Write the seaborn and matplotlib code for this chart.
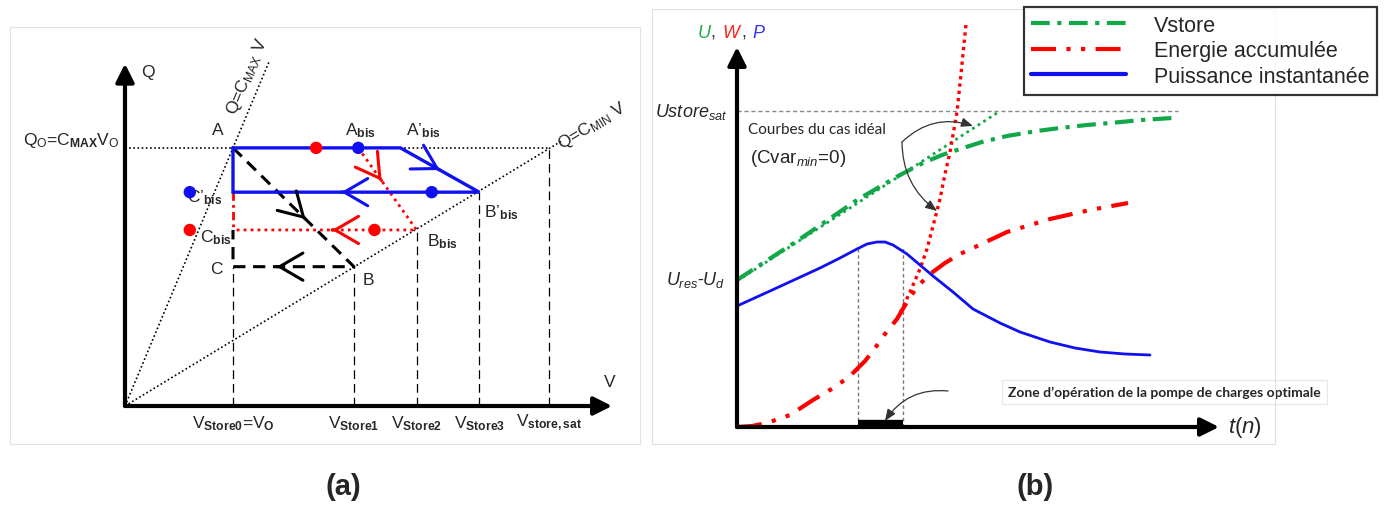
import matplotlib
matplotlib.use("Agg")
import matplotlib.pyplot as plt
from matplotlib.lines import Line2D
from matplotlib.patches import Rectangle
import seaborn as sns

# ---------------- panel (a) : Q-V charge cycle ----------------
V0, V1, V2, V3, VSAT = 1.0, 2.12, 2.70, 3.28, 3.93     # V_Store0..3, V_store,sat
V_ABIS, V_APRIME = 2.16, 2.55                          # A_bis, A'_bis
Q_A, Q_B3, Q_B2, Q_B = 2.39, 1.98, 1.63, 1.29          # levels of A, B'_bis, B_bis, B
C_MAX, C_MIN = 2.39, 0.607
v_ticks = [V0, V1, V2, V3, VSAT]
v_tick_labels = [r"V$_\mathbf{Store0}$=V$_\mathbf{O}$", r"V$_\mathbf{Store1}$",
                 r"V$_\mathbf{Store2}$", r"V$_\mathbf{Store3}$", r"V$_\mathbf{store,sat}$"]
blue_dots_v = [V_ABIS, 2.84, 0.60]
blue_dots_q = [Q_A, Q_B3, Q_B3]
red_dots_v = [1.77, 0.60, 2.31]
red_dots_q = [Q_A, Q_B2, Q_B2]

# ---------------- panel (b) : U, W, P versus t ----------------
U_SAT, U_RES_D = 3.16, 1.46
t_vstore = [0, 0.63, 1.20, 1.63, 1.86, 2.05, 2.23, 2.45, 2.70, 3.00, 3.23, 3.50, 3.73, 4.05, 4.35]
u_vstore = [1.47, 1.88, 2.27, 2.52, 2.64, 2.72, 2.78, 2.85, 2.91, 2.96, 2.99, 3.02, 3.04, 3.07, 3.09]
t_ideal_u = [0, 2.63]
u_ideal = [1.46, 3.16]
t_ideal_w = [1.60, 1.65, 1.73, 1.83, 1.90, 1.96, 2.03, 2.08, 2.13, 2.20, 2.24, 2.29]
w_ideal = [1.08, 1.18, 1.35, 1.58, 1.78, 2.01, 2.28, 2.53, 2.75, 3.15, 3.53, 4.03]
t_energy = [0, 0.15, 0.30, 0.53, 0.76, 0.98, 1.13, 1.28, 1.36, 1.48, 1.60, 1.70, 1.80,
            1.93, 2.08, 2.23, 2.36, 2.70, 3.13, 3.53, 3.91]
w_energy = [0, 0.01, 0.04, 0.12, 0.27, 0.40, 0.51, 0.66, 0.76, 0.93, 1.08, 1.25, 1.40,
            1.53, 1.64, 1.73, 1.79, 1.95, 2.08, 2.17, 2.24]
t_power = [0, 0.33, 0.70, 0.83, 1.03, 1.20, 1.30, 1.40, 1.48, 1.56, 1.70, 1.83, 1.96,
           2.16, 2.36, 2.63, 2.83, 3.13, 3.38, 3.63, 3.88, 4.13]
p_power = [1.21, 1.36, 1.53, 1.59, 1.69, 1.78, 1.83, 1.85, 1.85, 1.82, 1.73, 1.62, 1.51,
           1.35, 1.18, 1.04, 0.95, 0.85, 0.79, 0.75, 0.73, 0.72]
ZONE = [1.21, 1.66]
legend_labels = ["Vstore", "Energie accumulée", "Puissance instantanée"]

GREEN, RED, BLUE = "#12a84a", "#ff0000", "#1010f0"

sns.set_style("white")
plt.rcParams["font.family"] = ["Liberation Sans", "DejaVu Sans"]
plt.rcParams["mathtext.fontset"] = "custom"
plt.rcParams["mathtext.rm"] = "Liberation Sans"
plt.rcParams["mathtext.it"] = "Liberation Sans:italic"
plt.rcParams["mathtext.bf"] = "Liberation Sans:bold"

W, H = 1385, 506
fig = plt.figure(figsize=(W / 100, H / 100), dpi=100)


def mid_arrow(ax, p0, p1, frac, color, size=28):
    x = p0[0] + frac * (p1[0] - p0[0])
    y = p0[1] + frac * (p1[1] - p0[1])
    xs = x - 0.002 * (p1[0] - p0[0])
    ys = y - 0.002 * (p1[1] - p0[1])
    ax.annotate("", xy=(x, y), xytext=(xs, ys),
                arrowprops=dict(arrowstyle="->,head_length=0.6,head_width=0.35",
                                color=color, lw=2.2, mutation_scale=size,
                                shrinkA=0, shrinkB=0))


def axis_arrow(ax, p0, p1):
    ax.annotate("", xy=p1, xytext=p0,
                arrowprops=dict(arrowstyle="-|>,head_length=0.5,head_width=0.25",
                                color="black", lw=3, mutation_scale=22,
                                shrinkA=0, shrinkB=0))


# ---------- (a) ----------
S = 108
ax = fig.add_axes([0, 0, 692 / W, 1])
ax.set_xlim(-125 / S, (692 - 125) / S)
ax.set_ylim(-(H - 407) / S, 407 / S)
ax.axis("off")

# limit lines Q = C V
ax.plot([0, 1.34], [0, 1.34 * C_MAX], color="black", lw=1.2, ls=(0, (1, 1.5)))
ax.plot([0, 4.05], [0, 4.05 * C_MIN], color="black", lw=1.2, ls=(0, (1, 1.5)))
ax.plot([0, V0], [Q_A, Q_A], color="black", lw=1.2, ls=(0, (1, 1.5)))
ax.plot([V_APRIME, VSAT], [Q_A, Q_A], color="black", lw=1.2, ls=(0, (1, 1.5)))

# projection lines
for v, q in zip(v_ticks, [Q_B, Q_B, Q_B2, Q_B3, Q_A]):
    ax.plot([v, v], [0, q], color="black", lw=0.9, ls=(0, (7, 4)))

# black cycle
ax.plot([V0, V1, V0, V0], [Q_A, Q_B, Q_B, Q_B2], color="black", lw=2.2, ls=(0, (4, 2.5)))
mid_arrow(ax, (V0, Q_A), (V1, Q_B), 0.6, "black")
mid_arrow(ax, (V1, Q_B), (V0, Q_B), 0.64, "black")

# red cycle
ax.plot([V_ABIS, V2, V0], [Q_A, Q_B2, Q_B2], color=RED, lw=2, ls=(0, (1, 1.5)))
ax.plot([V0, V0], [Q_B3, Q_B2], color=RED, lw=2, ls=(0, (3, 1.5, 1, 1.5)))
mid_arrow(ax, (V_ABIS, Q_A), (V2, Q_B2), 0.4, RED)
mid_arrow(ax, (V2, Q_B2), (V0, Q_B2), 0.46, RED)

# blue cycle
ax.plot([V0, V_APRIME, V3, V0, V0], [Q_A, Q_A, Q_B3, Q_B3, Q_A], color=BLUE, lw=2.4,
        solid_joinstyle="miter")
mid_arrow(ax, (V_APRIME, Q_A), (V3, Q_B3), 0.5, BLUE)
mid_arrow(ax, (V3, Q_B3), (V0, Q_B3), 0.56, BLUE)

sns.scatterplot(x=blue_dots_v, y=blue_dots_q, color=BLUE, s=80, edgecolor="none", ax=ax, zorder=5)
sns.scatterplot(x=red_dots_v, y=red_dots_q, color=RED, s=80, edgecolor="none", ax=ax, zorder=5)

axis_arrow(ax, (0, 0), (4.51, 0))
axis_arrow(ax, (0, 0), (0, 3.17))

fs = 12.5
ax.text(0.21, 3.10, "Q", fontsize=fs, ha="center", va="center")
ax.text(4.49, 0.23, "V", fontsize=fs, ha="center", va="center")
ax.text(-0.05, 2.47, r"Q$_\mathregular{O}$=C$_\mathbf{MAX}$V$_\mathregular{O}$",
        fontsize=fs, ha="right", va="center")
ax.text(0.86, 2.56, "A", fontsize=fs, ha="center", va="center")
ax.text(2.18, 2.56, r"A$_\mathbf{bis}$", fontsize=fs, ha="center", va="center")
ax.text(2.76, 2.56, r"A’$_\mathbf{bis}$", fontsize=fs, ha="center", va="center")
ax.text(0.57, 1.94, r"C’$_\mathbf{bis}$", fontsize=fs, ha="left", va="center")
ax.text(0.69, 1.57, r"C$_\mathbf{bis}$", fontsize=fs, ha="left", va="center")
ax.text(0.85, 1.27, "C", fontsize=fs, ha="center", va="center")
ax.text(2.25, 1.17, "B", fontsize=fs, ha="center", va="center")
ax.text(2.80, 1.53, r"B$_\mathbf{bis}$", fontsize=fs, ha="left", va="center")
ax.text(3.32, 1.80, r"B’$_\mathbf{bis}$", fontsize=fs, ha="left", va="center")
for v, lab in zip(v_ticks, v_tick_labels):
    ax.text(v, -0.15, lab, fontsize=fs, ha="center", va="center")
ax.text(1.13, 3.06, r"Q=C$_\mathregular{MAX}$ V", fontsize=fs, ha="center", va="center",
        rotation=67)
ax.text(4.33, 2.60, r"Q=C$_\mathregular{MIN}$ V", fontsize=fs, ha="center", va="center",
        rotation=31)
ax.text(2.02, -0.74, "(a)", fontsize=21, fontweight="bold", ha="center", va="center")

# ---------- (b) ----------
S2 = 100
bx = fig.add_axes([692 / W, 0, (W - 692) / W, 1])
bx.set_xlim(-45 / S2, (W - 692 - 45) / S2)
bx.set_ylim(-78 / S2, (H - 78) / S2)
bx.axis("off")

bx.plot([0, 4.41], [U_SAT, U_SAT], color="#888888", lw=1, ls=(0, (3, 2)))
for t in ZONE:
    bx.plot([t, t], [0, 1.80], color="#777777", lw=1, ls=(0, (2.5, 2)))

sns.lineplot(x=t_ideal_u, y=u_ideal, color=GREEN, lw=2, ls=(0, (1, 1.4)),
             estimator=None, sort=False, ax=bx)
sns.lineplot(x=t_vstore, y=u_vstore, color=GREEN, lw=3, ls=(0, (4.5, 1.8, 1, 1.8)),
             estimator=None, sort=False, ax=bx)
sns.lineplot(x=t_ideal_w, y=w_ideal, color=RED, lw=2.4, ls=(0, (1, 1.2)),
             estimator=None, sort=False, ax=bx)
sns.lineplot(x=t_energy, y=w_energy, color=RED, lw=3, ls=(0, (6, 2.5, 1, 2.5, 1, 2.5)),
             estimator=None, sort=False, ax=bx)
sns.lineplot(x=t_power, y=p_power, color=BLUE, lw=2, estimator=None, sort=False, ax=bx)

bx.plot(ZONE, [0.03, 0.03], color="black", lw=6, solid_capstyle="butt")

axis_arrow(bx, (0, 0), (4.82, 0))
axis_arrow(bx, (0, 0), (0, 3.8))

bx.text(-0.39, 3.95, "U", color="#22aa44", fontsize=13, style="italic", ha="left", va="center")
bx.text(-0.265, 3.95, ",", color="#333333", fontsize=13, ha="left", va="center")
bx.text(-0.15, 3.95, "W", color="#ff2020", fontsize=13, style="italic", ha="left", va="center")
bx.text(0.045, 3.95, ",", color="#333333", fontsize=13, ha="left", va="center")
bx.text(0.15, 3.95, "P", color="#3333ff", fontsize=13, style="italic", ha="left", va="center")
bx.text(-0.10, U_SAT, r"$Ustore_{sat}$", fontsize=13, ha="right", va="center")
bx.text(-0.12, 1.48, r"$U_{res}$-$U_{d}$", fontsize=13, ha="right", va="center")
bx.text(0.11, 2.98, "Courbes du cas idéal", fontsize=11, family=["Lato", "DejaVu Sans"],
        ha="left", va="center")
bx.text(0.13, 2.70, r"(Cvar$_{min}$=0)", fontsize=13.5, ha="left", va="center")
bx.text(4.91, 0, r"$t(n)$", fontsize=16, ha="left", va="center")
bx.text(2.71, 0.35, "Zone d’opération de la pompe de charges optimale", fontsize=10,
        family=["Lato", "DejaVu Sans"], fontweight="bold", ha="left", va="center",
        bbox=dict(boxstyle="square,pad=0.45", fc="white", ec="#e6e6e6", lw=0.8))
bx.text(2.98, -0.59, "(b)", fontsize=21, fontweight="bold", ha="center", va="center")

ann = dict(arrowstyle="-|>,head_length=0.5,head_width=0.2", color="#333333", lw=0.9,
           mutation_scale=14, shrinkA=0, shrinkB=0)
bx.annotate("", xy=(2.36, 3.01), xytext=(1.65, 2.85),
            arrowprops=dict(connectionstyle="arc3,rad=-0.3", **ann))
bx.annotate("", xy=(2.00, 2.16), xytext=(1.65, 2.85),
            arrowprops=dict(connectionstyle="arc3,rad=0.25", **ann))
bx.annotate("", xy=(1.48, 0.06), xytext=(2.11, 0.36),
            arrowprops=dict(connectionstyle="arc3,rad=0.3", **ann))

handles = [
    Line2D([], [], color=GREEN, lw=3, ls=(0, (4.5, 1.8, 1, 1.8))),
    Line2D([], [], color=RED, lw=3, ls=(0, (6, 2.5, 1, 2.5, 1, 2.5))),
    Line2D([], [], color=BLUE, lw=3),
]
leg = fig.legend(handles, legend_labels, loc="upper right",
                 bbox_to_anchor=(1377 / W, 1 - 8 / H), bbox_transform=fig.transFigure,
                 fontsize=15.5, frameon=True, fancybox=False, handlelength=4.4,
                 handletextpad=1.3, labelspacing=0.22, borderpad=0.35, borderaxespad=0)
leg.get_frame().set_edgecolor("black")
leg.get_frame().set_linewidth(1.6)

# faint panel frames
fig.patches.append(Rectangle((10 / W, (H - 445) / H), 630 / W, 417 / H, fill=False,
                             ec="#e2e2e2", lw=0.8, transform=fig.transFigure))
fig.patches.append(Rectangle((652 / W, (H - 445) / H), 623 / W, 435 / H, fill=False,
                             ec="#e2e2e2", lw=0.8, transform=fig.transFigure))

fig.savefig("out.png", dpi=100)
